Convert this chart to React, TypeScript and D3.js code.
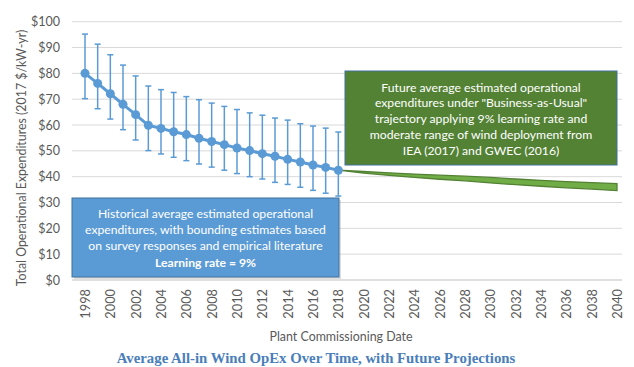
import { useMemo } from "react"
import * as d3 from "d3"

const W = 634
const H = 367
const FONT = "Lato, 'Open Sans', sans-serif"

const histYears = [1998, 1999, 2000, 2001, 2002, 2003, 2004, 2005, 2006, 2007, 2008, 2009, 2010, 2011, 2012, 2013, 2014, 2015, 2016, 2017, 2018]
const histMean = [80.0, 76.1, 72.1, 68.0, 64.0, 59.9, 58.7, 57.4, 56.3, 54.9, 53.6, 52.4, 51.1, 50.1, 48.9, 47.9, 46.7, 45.7, 44.5, 43.6, 42.5]
const histHigh = [95.2, 91.3, 87.2, 83.2, 79.0, 75.1, 73.7, 72.6, 71.0, 69.8, 68.5, 67.2, 66.0, 64.7, 63.8, 62.7, 61.9, 60.5, 59.6, 58.8, 57.3]
const histLow = [70.2, 66.3, 62.3, 58.2, 54.2, 50.1, 48.8, 47.5, 46.2, 44.9, 43.7, 42.5, 41.2, 40.0, 39.1, 37.8, 37.0, 35.9, 34.7, 33.6, 32.5]

const futureYears = [2018, 2020, 2022, 2024, 2026, 2028, 2030, 2032, 2034, 2036, 2038, 2040]
const futureHigh = [42.5, 42.0, 41.5, 41.0, 40.6, 40.2, 39.7, 39.1, 38.6, 38.1, 37.7, 37.3]
const futureLow = [42.5, 41.4, 40.5, 39.7, 39.0, 38.4, 37.6, 36.9, 36.3, 35.7, 35.2, 34.6]

const xTickYears = [1998, 2000, 2002, 2004, 2006, 2008, 2010, 2012, 2014, 2016, 2018, 2020, 2022, 2024, 2026, 2028, 2030, 2032, 2034, 2036, 2038, 2040]
const yTicks = [0, 10, 20, 30, 40, 50, 60, 70, 80, 90, 100]

const blueNote = [
  "Historical average estimated operational",
  "expenditures, with bounding estimates based",
  "on survey responses and empirical literature",
]
const blueNoteBold = "Learning rate = 9%"
const greenNote = [
  "Future average estimated operational",
  "expenditures under \"Business-as-Usual\"",
  "trajectory applying 9% learning rate and",
  "moderate range of wind deployment from",
  "IEA (2017) and GWEC (2016)",
]

export default function App() {
  const x = d3.scaleLinear().domain([1998, 2040]).range([85, 617])
  const y = d3.scaleLinear().domain([0, 100]).range([280, 21.7])

  const hist = useMemo(
    () => histYears.map((yr, i) => ({ yr, mean: histMean[i], hi: histHigh[i], lo: histLow[i] })),
    []
  )
  const future = futureYears.map((yr, i) => ({ yr, hi: futureHigh[i], lo: futureLow[i] }))

  const line = d3.line<(typeof hist)[number]>().x((d) => x(d.yr)).y((d) => y(d.mean))
  const band = d3
    .area<(typeof future)[number]>()
    .x((d) => x(d.yr))
    .y0((d) => y(d.lo))
    .y1((d) => y(d.hi))

  const plotLeft = 72
  const plotRight = 622

  return (
    <svg
      width={W}
      height={H}
      style={{ position: "absolute", left: 0, top: 0, background: "white" }}
      fontFamily={FONT}
    >
      {/* gridlines */}
      {yTicks.map((t) => (
        <line
          key={t}
          x1={plotLeft}
          x2={plotRight}
          y1={y(t)}
          y2={y(t)}
          stroke={t === 0 ? "#bfbfbf" : "#d9d9d9"}
          strokeWidth={t === 0 ? 1.2 : 1}
        />
      ))}
      {yTicks.map((t) => (
        <text key={t} x={60} y={y(t)} textAnchor="end" dominantBaseline="central" fontSize={12.5} fill="#595959">
          ${t}
        </text>
      ))}
      <text
        transform={`translate(21, 158) rotate(-90)`}
        textAnchor="middle"
        dominantBaseline="central"
        fontSize={12.4}
        fill="#595959"
      >
        Total Operational Expenditures (2017 $/kW-yr)
      </text>

      {xTickYears.map((yr) => (
        <text
          key={yr}
          transform={`translate(${x(yr)}, 289) rotate(-90)`}
          textAnchor="end"
          dominantBaseline="central"
          fontSize={12.8}
          fill="#595959"
        >
          {yr}
        </text>
      ))}
      <text x={341} y={336} textAnchor="middle" dominantBaseline="central" fontSize={12.4} fill="#595959">
        Plant Commissioning Date
      </text>

      {/* future band */}
      <path d={band(future) ?? ""} fill="#70ad47" stroke="#548235" strokeWidth={1.3} />

      {/* historical series */}
      {hist.map((d) => (
        <g key={d.yr} stroke="#5b9bd5" strokeWidth={1.5}>
          <line x1={x(d.yr)} x2={x(d.yr)} y1={y(d.hi)} y2={y(d.lo)} />
          <line x1={x(d.yr) - 3} x2={x(d.yr) + 3} y1={y(d.hi)} y2={y(d.hi)} />
          <line x1={x(d.yr) - 3} x2={x(d.yr) + 3} y1={y(d.lo)} y2={y(d.lo)} />
        </g>
      ))}
      <path d={line(hist) ?? ""} fill="none" stroke="#5b9bd5" strokeWidth={3} />
      {hist.map((d) => (
        <circle key={d.yr} cx={x(d.yr)} cy={y(d.mean)} r={4.5} fill="#5b9bd5" />
      ))}

      {/* blue note */}
      <rect x={74} y={200} width={267} height={79} fill="#bfbfbf" opacity={0.5} />
      <rect x={72} y={198} width={267} height={79} fill="#5b9bd5" stroke="#41719c" strokeWidth={1} />
      {blueNote.map((s, i) => (
        <text key={i} x={205.5} y={213 + i * 16.3} textAnchor="middle" dominantBaseline="central" fontSize={12.2} fill="white">
          {s}
        </text>
      ))}
      <text x={205.5} y={262} textAnchor="middle" dominantBaseline="central" fontSize={12.2} fontWeight="bold" fill="white">
        {blueNoteBold}
      </text>

      {/* green note */}
      <rect x={345} y={71} width={272} height={94} fill="#548235" stroke="#41719c" strokeWidth={1} />
      {greenNote.map((s, i) => (
        <text key={i} x={481} y={87 + i * 15.8} textAnchor="middle" dominantBaseline="central" fontSize={12.2} fill="white">
          {s}
        </text>
      ))}

      <text
        x={316}
        y={358}
        textAnchor="middle"
        dominantBaseline="central"
        fontSize={14.8}
        fontWeight="bold"
        fontFamily="'Liberation Serif', 'Times New Roman', serif"
        fill="#4a7ebb"
      >
        Average All-in Wind OpEx Over Time, with Future Projections
      </text>
    </svg>
  )
}
